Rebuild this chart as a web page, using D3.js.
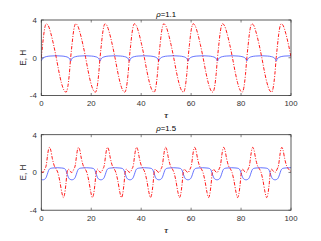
<!DOCTYPE html>
<html>
<head>
<meta charset="utf-8">
<script src="https://cdn.jsdelivr.net/npm/d3@7"></script>
<style>
  html, body { margin: 0; padding: 0; background: #fff; }
  svg { display: block; font-family: "Liberation Sans", Arial, sans-serif; }
</style>
</head>
<body>
<div id="chart"></div>
<script>
// 上段 ρ=1.1 / 下段 ρ=1.5。赤の一点鎖線 = E、青の実線 = H
var X_TICKS = [0, 20, 40, 60, 80, 100];
var Y_TICKS = [-4, 0, 4];
var TITLES = ['1.1', '1.5'];

var topTimeE = [
  0, 0.5, 1.0, 1.5, 2.0, 2.8, 3.8, 4.9, 6.0, 7.0, 8.0, 9.0, 9.9, 10.6, 11.2,
  11.76, 12.26, 12.76, 13.26, 13.76, 14.56, 15.56, 16.66, 17.76, 18.76, 19.76, 20.76, 21.66, 22.36, 22.96,
  23.52, 24.02, 24.52, 25.02, 25.52, 26.32, 27.32, 28.42, 29.52, 30.52, 31.52, 32.52, 33.42, 34.12, 34.72,
  35.28, 35.78, 36.28, 36.78, 37.28, 38.08, 39.08, 40.18, 41.28, 42.28, 43.28, 44.28, 45.18, 45.88, 46.48,
  47.04, 47.54, 48.04, 48.54, 49.04, 49.84, 50.84, 51.94, 53.04, 54.04, 55.04, 56.04, 56.94, 57.64, 58.24,
  58.8, 59.3, 59.8, 60.3, 60.8, 61.6, 62.6, 63.7, 64.8, 65.8, 66.8, 67.8, 68.7, 69.4, 70.0,
  70.56, 71.06, 71.56, 72.06, 72.56, 73.36, 74.36, 75.46, 76.56, 77.56, 78.56, 79.56, 80.46, 81.16, 81.76,
  82.32, 82.82, 83.32, 83.82, 84.32, 85.12, 86.12, 87.22, 88.32, 89.32, 90.32, 91.32, 92.22, 92.92, 93.52,
  94.08, 94.58, 95.08, 95.58, 96.08, 96.88, 97.88, 98.98, 100
];
var topE = [
  0, 1.3, 2.5, 3.3, 3.6, 3.4, 2.6, 1.4, 0, -1.4, -2.6, -3.4, -3.65, -3.1, -1.8,
  0, 1.3, 2.5, 3.3, 3.6, 3.4, 2.6, 1.4, 0, -1.4, -2.6, -3.4, -3.65, -3.1, -1.8,
  0, 1.3, 2.5, 3.3, 3.6, 3.4, 2.6, 1.4, 0, -1.4, -2.6, -3.4, -3.65, -3.1, -1.8,
  0, 1.3, 2.5, 3.3, 3.6, 3.4, 2.6, 1.4, 0, -1.4, -2.6, -3.4, -3.65, -3.1, -1.8,
  0, 1.3, 2.5, 3.3, 3.6, 3.4, 2.6, 1.4, 0, -1.4, -2.6, -3.4, -3.65, -3.1, -1.8,
  0, 1.3, 2.5, 3.3, 3.6, 3.4, 2.6, 1.4, 0, -1.4, -2.6, -3.4, -3.65, -3.1, -1.8,
  0, 1.3, 2.5, 3.3, 3.6, 3.4, 2.6, 1.4, 0, -1.4, -2.6, -3.4, -3.65, -3.1, -1.8,
  0, 1.3, 2.5, 3.3, 3.6, 3.4, 2.6, 1.4, 0, -1.4, -2.6, -3.4, -3.65, -3.1, -1.8,
  0, 1.3, 2.5, 3.3, 3.6, 3.4, 2.6, 1.4, 0.1
];
var topTimeH = [
  0, 0.4, 1.0, 2.0, 3.5, 5.9, 8.3, 9.8, 10.8, 11.36,
  11.76, 12.16, 12.76, 13.76, 15.26, 17.66, 20.06, 21.56, 22.56, 23.12,
  23.52, 23.92, 24.52, 25.52, 27.02, 29.42, 31.82, 33.32, 34.32, 34.88,
  35.28, 35.68, 36.28, 37.28, 38.78, 41.18, 43.58, 45.08, 46.08, 46.64,
  47.04, 47.44, 48.04, 49.04, 50.54, 52.94, 55.34, 56.84, 57.84, 58.4,
  58.8, 59.2, 59.8, 60.8, 62.3, 64.7, 67.1, 68.6, 69.6, 70.16,
  70.56, 70.96, 71.56, 72.56, 74.06, 76.46, 78.86, 80.36, 81.36, 81.92,
  82.32, 82.72, 83.32, 84.32, 85.82, 88.22, 90.62, 92.12, 93.12, 93.68,
  94.08, 94.48, 95.08, 96.08, 97.58, 100
];
var topH = [
  -0.35, -0.12, 0.02, 0.12, 0.18, 0.21, 0.18, 0.12, 0.02, -0.12,
  -0.35, -0.12, 0.02, 0.12, 0.18, 0.21, 0.18, 0.12, 0.02, -0.12,
  -0.35, -0.12, 0.02, 0.12, 0.18, 0.21, 0.18, 0.12, 0.02, -0.12,
  -0.35, -0.12, 0.02, 0.12, 0.18, 0.21, 0.18, 0.12, 0.02, -0.12,
  -0.35, -0.12, 0.02, 0.12, 0.18, 0.21, 0.18, 0.12, 0.02, -0.12,
  -0.35, -0.12, 0.02, 0.12, 0.18, 0.21, 0.18, 0.12, 0.02, -0.12,
  -0.35, -0.12, 0.02, 0.12, 0.18, 0.21, 0.18, 0.12, 0.02, -0.12,
  -0.35, -0.12, 0.02, 0.12, 0.18, 0.21, 0.18, 0.12, 0.02, -0.12,
  -0.35, -0.12, 0.02, 0.12, 0.18, 0.21
];

var botTimeE = [
  0, 0.6, 1.4, 2.0, 2.5, 2.9, 3.3, 3.8, 4.4, 5.2, 6.0, 6.6, 7.4, 8.2,
  8.83, 9.33, 9.83, 10.33, 10.83, 11.43, 12.23, 13.03, 13.63, 14.13, 14.53, 14.93, 15.43, 16.03, 16.83, 17.63, 18.23, 19.03, 19.83,
  20.46, 20.96, 21.46, 21.96, 22.46, 23.06, 23.86, 24.66, 25.26, 25.76, 26.16, 26.56, 27.06, 27.66, 28.46, 29.26, 29.86, 30.66, 31.46,
  32.09, 32.59, 33.09, 33.59, 34.09, 34.69, 35.49, 36.29, 36.89, 37.39, 37.79, 38.19, 38.69, 39.29, 40.09, 40.89, 41.49, 42.29, 43.09,
  43.72, 44.22, 44.72, 45.22, 45.72, 46.32, 47.12, 47.92, 48.52, 49.02, 49.42, 49.82, 50.32, 50.92, 51.72, 52.52, 53.12, 53.92, 54.72,
  55.35, 55.85, 56.35, 56.85, 57.35, 57.95, 58.75, 59.55, 60.15, 60.65, 61.05, 61.45, 61.95, 62.55, 63.35, 64.15, 64.75, 65.55, 66.35,
  66.98, 67.48, 67.98, 68.48, 68.98, 69.58, 70.38, 71.18, 71.78, 72.28, 72.68, 73.08, 73.58, 74.18, 74.98, 75.78, 76.38, 77.18, 77.98,
  78.61, 79.11, 79.61, 80.11, 80.61, 81.21, 82.01, 82.81, 83.41, 83.91, 84.31, 84.71, 85.21, 85.81, 86.61, 87.41, 88.01, 88.81, 89.61,
  90.24, 90.74, 91.24, 91.74, 92.24, 92.84, 93.64, 94.44, 95.04, 95.54, 95.94, 96.34, 96.84, 97.44, 98.24, 99.04, 100
];
var botE = [
  0.15, 0, 0.35, 0.8, 1.8, 2.45, 2.66, 2.35, 1.5, 0.7, 0.35, 0, -0.9, -2.1,
  -2.66, -2.3, -1.3, 0, 0.35, 0.15, 0, 0.35, 0.8, 1.8, 2.45, 2.66, 2.35, 1.5, 0.7, 0.35, 0, -0.9, -2.1,
  -2.66, -2.3, -1.3, 0, 0.35, 0.15, 0, 0.35, 0.8, 1.8, 2.45, 2.66, 2.35, 1.5, 0.7, 0.35, 0, -0.9, -2.1,
  -2.66, -2.3, -1.3, 0, 0.35, 0.15, 0, 0.35, 0.8, 1.8, 2.45, 2.66, 2.35, 1.5, 0.7, 0.35, 0, -0.9, -2.1,
  -2.66, -2.3, -1.3, 0, 0.35, 0.15, 0, 0.35, 0.8, 1.8, 2.45, 2.66, 2.35, 1.5, 0.7, 0.35, 0, -0.9, -2.1,
  -2.66, -2.3, -1.3, 0, 0.35, 0.15, 0, 0.35, 0.8, 1.8, 2.45, 2.66, 2.35, 1.5, 0.7, 0.35, 0, -0.9, -2.1,
  -2.66, -2.3, -1.3, 0, 0.35, 0.15, 0, 0.35, 0.8, 1.8, 2.45, 2.66, 2.35, 1.5, 0.7, 0.35, 0, -0.9, -2.1,
  -2.66, -2.3, -1.3, 0, 0.35, 0.15, 0, 0.35, 0.8, 1.8, 2.45, 2.66, 2.35, 1.5, 0.7, 0.35, 0, -0.9, -2.1,
  -2.66, -2.3, -1.3, 0, 0.35, 0.15, 0, 0.35, 0.8, 1.8, 2.45, 2.66, 2.35, 1.5, 0.7, 0.35, 0.1
];
var botTimeH = [
  0, 0.6, 1.2, 1.9, 2.4, 2.9, 3.6, 4.6, 6.4, 8.2, 9.2, 9.9, 10.4, 10.9, 11.6,
  12.23, 12.83, 13.53, 14.03, 14.53, 15.23, 16.23, 18.03, 19.83, 20.83, 21.53, 22.03, 22.53, 23.23,
  23.86, 24.46, 25.16, 25.66, 26.16, 26.86, 27.86, 29.66, 31.46, 32.46, 33.16, 33.66, 34.16, 34.86,
  35.49, 36.09, 36.79, 37.29, 37.79, 38.49, 39.49, 41.29, 43.09, 44.09, 44.79, 45.29, 45.79, 46.49,
  47.12, 47.72, 48.42, 48.92, 49.42, 50.12, 51.12, 52.92, 54.72, 55.72, 56.42, 56.92, 57.42, 58.12,
  58.75, 59.35, 60.05, 60.55, 61.05, 61.75, 62.75, 64.55, 66.35, 67.35, 68.05, 68.55, 69.05, 69.75,
  70.38, 70.98, 71.68, 72.18, 72.68, 73.38, 74.38, 76.18, 77.98, 78.98, 79.68, 80.18, 80.68, 81.38,
  82.01, 82.61, 83.31, 83.81, 84.31, 85.01, 86.01, 87.81, 89.61, 90.61, 91.31, 91.81, 92.31, 93.01,
  93.64, 94.24, 94.94, 95.44, 95.94, 96.64, 97.64, 99.44, 100
];
var botH = [
  -0.74, -0.78, -0.74, -0.55, -0.2, 0.2, 0.42, 0.47, 0.5, 0.47, 0.42, 0.2, -0.2, -0.55, -0.74,
  -0.78, -0.74, -0.55, -0.2, 0.2, 0.42, 0.47, 0.5, 0.47, 0.42, 0.2, -0.2, -0.55, -0.74,
  -0.78, -0.74, -0.55, -0.2, 0.2, 0.42, 0.47, 0.5, 0.47, 0.42, 0.2, -0.2, -0.55, -0.74,
  -0.78, -0.74, -0.55, -0.2, 0.2, 0.42, 0.47, 0.5, 0.47, 0.42, 0.2, -0.2, -0.55, -0.74,
  -0.78, -0.74, -0.55, -0.2, 0.2, 0.42, 0.47, 0.5, 0.47, 0.42, 0.2, -0.2, -0.55, -0.74,
  -0.78, -0.74, -0.55, -0.2, 0.2, 0.42, 0.47, 0.5, 0.47, 0.42, 0.2, -0.2, -0.55, -0.74,
  -0.78, -0.74, -0.55, -0.2, 0.2, 0.42, 0.47, 0.5, 0.47, 0.42, 0.2, -0.2, -0.55, -0.74,
  -0.78, -0.74, -0.55, -0.2, 0.2, 0.42, 0.47, 0.5, 0.47, 0.42, 0.2, -0.2, -0.55, -0.74,
  -0.78, -0.74, -0.55, -0.2, 0.2, 0.42, 0.47, 0.5, 0.5
];

(function () {
    'use strict';
    var W = 321, H = 241;
    var svg = d3.select('#chart').append('svg')
        .attr('width', W).attr('height', H);

    var panels = [
        { top: 20, tE: topTimeE, e: topE, tH: topTimeH, h: topH, title: TITLES[0] },
        { top: 134.7, tE: botTimeE, e: botE, tH: botTimeH, h: botH, title: TITLES[1] }
    ];
    var ml = 41.3, pw = 249.7, ph = 75.5;
    var axisColor = '#333';

    panels.forEach(function (p) {
        var x = d3.scaleLinear().domain([0, 100]).range([ml, ml + pw]);
        var y = d3.scaleLinear().domain([-4, 4]).range([p.top + ph, p.top]);
        var g = svg.append('g');

        var clipId = 'clip' + Math.round(p.top);
        g.append('clipPath').attr('id', clipId).append('rect')
            .attr('x', ml).attr('y', p.top).attr('width', pw).attr('height', ph);

        // 目盛り（内向き、上下左右）
        X_TICKS.forEach(function (t) {
            g.append('line').attr('x1', x(t)).attr('x2', x(t))
                .attr('y1', p.top + ph).attr('y2', p.top + ph - 2.5)
                .attr('stroke', axisColor).attr('stroke-width', 0.6);
            g.append('line').attr('x1', x(t)).attr('x2', x(t))
                .attr('y1', p.top).attr('y2', p.top + 2.5)
                .attr('stroke', axisColor).attr('stroke-width', 0.6);
            g.append('text').attr('x', x(t)).attr('y', p.top + ph + 10.5)
                .attr('text-anchor', 'middle').attr('font-size', 7.8).attr('fill', axisColor)
                .text(t);
        });
        Y_TICKS.forEach(function (t) {
            g.append('line').attr('x1', ml).attr('x2', ml + 2.5)
                .attr('y1', y(t)).attr('y2', y(t))
                .attr('stroke', axisColor).attr('stroke-width', 0.6);
            g.append('line').attr('x1', ml + pw).attr('x2', ml + pw - 2.5)
                .attr('y1', y(t)).attr('y2', y(t))
                .attr('stroke', axisColor).attr('stroke-width', 0.6);
            g.append('text').attr('x', ml - 4.5).attr('y', y(t) + 2.8)
                .attr('text-anchor', 'end').attr('font-size', 7.8).attr('fill', axisColor)
                .text(t);
        });

        var line = d3.line()
            .x(function (d) { return x(d[0]); })
            .y(function (d) { return y(d[1]); })
            .curve(d3.curveMonotoneX);

        g.append('path').datum(d3.zip(p.tH, p.h))
            .attr('d', line).attr('clip-path', 'url(#' + clipId + ')')
            .attr('fill', 'none').attr('stroke', '#3346ff').attr('stroke-width', 0.75);
        g.append('path').datum(d3.zip(p.tE, p.e))
            .attr('d', line).attr('clip-path', 'url(#' + clipId + ')')
            .attr('fill', 'none').attr('stroke', '#ff0000').attr('stroke-width', 0.9)
            .attr('stroke-dasharray', '3.5,1.5,1,1.5');

        g.append('rect').attr('x', ml).attr('y', p.top).attr('width', pw).attr('height', ph)
            .attr('fill', 'none').attr('stroke', axisColor).attr('stroke-width', 0.8);

        // タイトル・軸ラベル
        var tt = g.append('text').attr('x', ml + pw / 2).attr('y', p.top - 3.5)
            .attr('text-anchor', 'middle').attr('font-size', 7.8).attr('fill', '#000');
        tt.append('tspan').attr('font-style', 'italic').text('ρ');
        tt.append('tspan').text('=' + p.title);

        g.append('text').attr('x', ml + pw / 2).attr('y', p.top + ph + 22.5)
            .attr('text-anchor', 'middle').attr('font-size', 8.5)
            .attr('font-family', '"Liberation Serif", serif')
            .attr('font-style', 'italic').attr('font-weight', 'bold').attr('fill', axisColor)
            .text('τ');

        g.append('text')
            .attr('transform', 'translate(' + (ml - 15.5) + ',' + (p.top + ph / 2) + ') rotate(-90)')
            .attr('text-anchor', 'middle').attr('font-size', 8.2).attr('fill', axisColor)
            .text('E, H');
    });
})();
</script>
</body>
</html>
